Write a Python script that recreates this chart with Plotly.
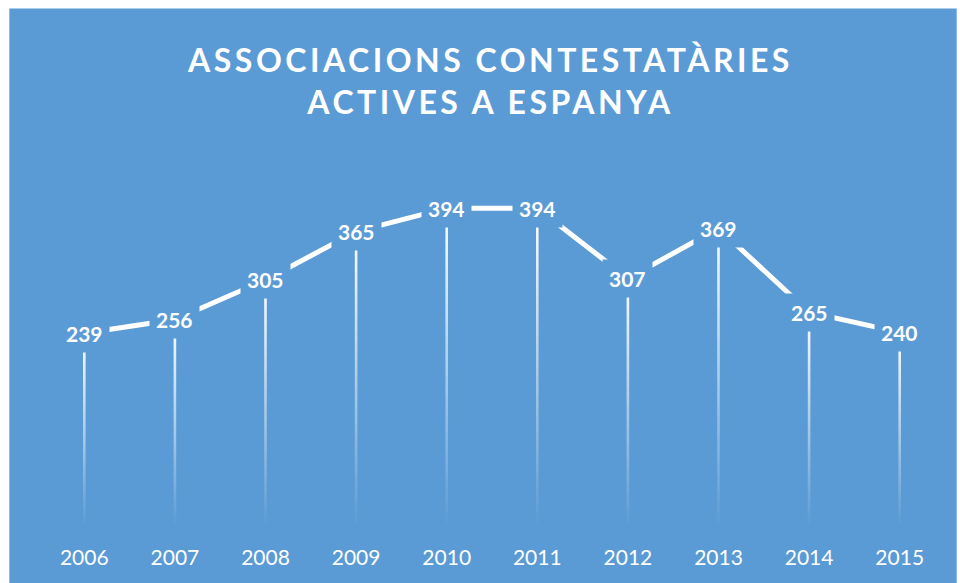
import plotly.graph_objects as go

years = ["2006", "2007", "2008", "2009", "2010", "2011", "2012", "2013", "2014", "2015"]
values = [239, 256, 305, 365, 394, 394, 307, 369, 265, 240]
title_text = "ASSOCIACIONS CONTESTATÀRIES<br>ACTIVES A ESPANYA"

BLUE = "#5B9BD5"
FONT = "Lato"
W, H = 960, 583
L, R, T, B = 38.7, 14.7, 163.3, 57
YMAX = 450

xpos = list(range(len(years)))
pw = W - L - R
ph = H - T - B
half_w = 1.3 / (pw / len(years))  # half drop-line width in x units (~2.6 px wide)

fig = go.Figure()

# gradient drop lines (white at point fading to transparent at axis)
for xi, v in zip(xpos, values):
    fig.add_trace(go.Scatter(
        x=[xi - half_w, xi + half_w, xi + half_w, xi - half_w, xi - half_w],
        y=[0, 0, v, v, 0],
        mode="none", fill="toself",
        fillgradient=dict(type="vertical",
                          colorscale=[[0, "rgba(255,255,255,0)"], [1, "rgba(255,255,255,1)"]]),
        hoverinfo="skip", showlegend=False,
    ))

# main line
fig.add_trace(go.Scatter(
    x=xpos, y=values, mode="lines",
    line=dict(color="white", width=5),
    hoverinfo="skip", showlegend=False,
))

# data labels with background that breaks the lines
for xi, v in zip(xpos, values):
    fig.add_annotation(
        x=xi, y=v, xref="x", yref="y", text=f"<b>{v}</b>", showarrow=False,
        font=dict(family=FONT, size=21, color="white"),
        bgcolor=BLUE, borderpad=6, xanchor="center", yanchor="middle",
    )

def px_x(p):
    return (p - L) / pw
def px_y(p):
    return (H - B - p) / ph

fig.add_shape(type="rect", xref="paper", yref="paper",
              x0=px_x(9), x1=px_x(957), y0=px_y(9), y1=px_y(590),
              fillcolor=BLUE, line=dict(width=0), layer="below")

fig.update_layout(
    width=W, height=H,
    margin=dict(l=L, r=R, t=T, b=B, pad=0),
    paper_bgcolor="white", plot_bgcolor="rgba(0,0,0,0)",
    title=dict(text=title_text, x=490.5 / W, xref="container", xanchor="center",
               y=1 - 72 / H, yref="container", yanchor="middle",
               font=dict(family=FONT, size=32, color="white", weight="bold")),
    xaxis=dict(range=[-0.5, len(years) - 0.5], showgrid=False,
               tickmode="array", tickvals=xpos, ticktext=years,
               zeroline=False, showline=False, ticks="", ticklabelstandoff=17,
               tickfont=dict(family=FONT, size=21, color="white")),
    yaxis=dict(range=[0, YMAX], visible=False, showgrid=False, zeroline=False),
    hovermode=False,
)

post = """
var s = document.createElement('style');
s.innerHTML = 'html, body { margin: 0; padding: 0; overflow: hidden; } .gtitle { letter-spacing: 3.5px; }';
document.head.appendChild(s);
"""

fig.write_html("out.html", post_script=post, config={"displayModeBar": False})
